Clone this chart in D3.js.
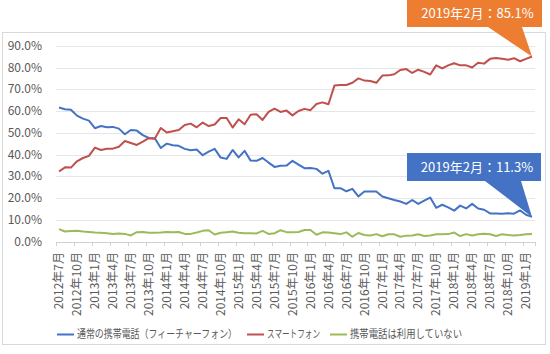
<!DOCTYPE html>
<html>
<head>
<meta charset="utf-8">
<script src="https://cdn.jsdelivr.net/npm/d3@7"></script>
<style>
  body { margin: 0; background: #fff; }
  svg { display: block; font-family: "Noto Sans CJK JP", "Noto Sans", sans-serif; }
</style>
</head>
<body>
<svg id="chart" width="550" height="354"></svg>
<script>
// months Jul 2012 .. Feb 2019 (80 points)
var startYear = 2012, startMonth = 7, nMonths = 80;
var months = d3.range(nMonths).map(function(i) {
  var m = startMonth - 1 + i;
  return (startYear + Math.floor(m / 12)) + "年" + (m % 12 + 1) + "月";
});

var seriesNames = ["通常の携帯電話（フィーチャーフォン）", "スマートフォン", "携帯電話は利用していない"];
var seriesColors = ["#4472C4", "#C0504D", "#9BBB59"];

var featurePhone = [
  61.6, 60.8, 60.6, 57.9, 56.5, 55.6, 52.1, 53.1, 52.5, 52.7, 51.9, 49.3, 51.3, 51.0, 48.9, 47.6, 47.5, 43.0, 45.0, 44.3,
  44.0, 42.6, 42.0, 42.3, 39.7, 41.3, 42.6, 38.6, 38.0, 42.1, 38.7, 41.7, 37.2, 37.1, 38.4, 36.3, 34.3, 34.8, 34.9, 37.1,
  35.4, 33.7, 33.8, 33.4, 31.2, 32.5, 24.5, 24.5, 23.1, 24.2, 20.7, 23.0, 23.0, 23.0, 20.7, 19.9, 19.1, 18.4, 17.3, 19.1,
  17.3, 18.8, 20.2, 15.5, 16.9, 15.7, 14.2, 16.5, 15.2, 17.3, 15.2, 14.6, 12.9, 12.9, 12.8, 13.0, 12.8, 14.3, 12.3, 11.3
];
var smartphone = [
  32.2, 34.1, 34.0, 36.9, 38.4, 39.4, 43.2, 42.1, 42.7, 42.7, 43.6, 46.2, 45.3, 44.4, 45.9, 47.5, 47.3, 52.2, 50.1, 50.7,
  51.3, 53.6, 54.2, 52.5, 54.7, 53.1, 53.8, 56.8, 56.8, 52.4, 56.2, 53.9, 58.3, 58.5, 55.9, 59.6, 61.1, 59.6, 60.2, 58.0,
  60.0, 61.0, 60.4, 63.2, 64.0, 63.1, 71.7, 72.0, 72.0, 73.0, 75.0, 74.0, 73.8, 73.0, 76.3, 76.4, 76.9, 78.9, 79.3, 77.5,
  79.0, 78.0, 76.8, 81.0, 79.6, 81.0, 82.0, 81.0, 81.0, 80.0, 82.2, 81.8, 84.0, 84.4, 84.0, 83.6, 84.3, 82.9, 84.0, 85.1
];
var noPhone = [
  5.7, 4.6, 4.8, 4.9, 4.6, 4.4, 4.1, 4.0, 3.8, 3.5, 3.7, 3.5, 2.8, 4.3, 4.4, 4.0, 4.0, 4.1, 4.4, 4.3,
  4.4, 3.5, 3.5, 4.1, 4.9, 5.2, 3.2, 4.0, 4.3, 4.6, 4.0, 3.8, 3.8, 3.7, 4.9, 3.5, 3.8, 5.2, 4.3, 4.3,
  4.4, 5.3, 5.3, 3.1, 4.2, 4.1, 3.8, 3.4, 4.2, 2.2, 3.9, 3.0, 2.8, 3.4, 2.4, 3.3, 3.3, 2.2, 2.7, 2.8,
  3.3, 2.5, 2.8, 3.3, 3.3, 3.4, 4.1, 2.5, 3.4, 2.8, 3.3, 3.6, 3.3, 2.5, 3.3, 3.0, 2.8, 3.0, 3.3, 3.4
];
var yTicks = [0, 10, 20, 30, 40, 50, 60, 70, 80, 90];
var tickEvery = 3;

var svg = d3.select("#chart");

// outer frame
svg.append("rect")
  .attr("x", 2.5).attr("y", 32.5)
  .attr("width", 543).attr("height", 312)
  .attr("fill", "none").attr("stroke", "#d9d9d9");

var xScale = d3.scalePoint().domain(months).range([56, 535]).padding(0.5);
var step = xScale.step();
var yScale = d3.scaleLinear().domain([0, 90]).range([241.5, 45.8]);

// gridlines + y labels
svg.selectAll("line.grid")
  .data(yTicks)
  .join("line")
    .attr("class", "grid")
    .attr("x1", 56).attr("x2", 535)
    .attr("y1", d => Math.round(yScale(d)) + 0.5)
    .attr("y2", d => Math.round(yScale(d)) + 0.5)
    .attr("stroke", d => d === 0 ? "#d0d0d0" : "#e6e6e6");

svg.selectAll("text.ylab")
  .data(yTicks)
  .join("text")
    .attr("class", "ylab")
    .attr("x", 42)
    .attr("y", d => yScale(d))
    .attr("dy", "0.35em")
    .attr("text-anchor", "end")
    .attr("fill", "#595959")
    .style("font-size", "12px")
    .text(d => d3.format(".1f")(d) + "%");

// x tick marks at category boundaries
var tickIdx = d3.range(0, nMonths + 1, tickEvery).concat([nMonths]);
svg.selectAll("line.xtick")
  .data(tickIdx)
  .join("line")
    .attr("class", "xtick")
    .attr("x1", d => Math.round(56 + d * step) + 0.5)
    .attr("x2", d => Math.round(56 + d * step) + 0.5)
    .attr("y1", 242).attr("y2", 246)
    .attr("stroke", "#d0d0d0");

// x labels (rotated)
var labelMonths = months.filter((m, i) => i % tickEvery === 0);
svg.selectAll("text.xlab")
  .data(labelMonths)
  .join("text")
    .attr("class", "xlab")
    .attr("transform", d => `translate(${xScale(d)},252) rotate(-90)`)
    .attr("dy", "0.35em")
    .attr("text-anchor", "end")
    .attr("fill", "#595959")
    .style("font-size", "12px")
    .text(d => d);

// lines
var seriesData = [featurePhone, smartphone, noPhone];
var line = d3.line()
  .x((d, i) => xScale(months[i]))
  .y(d => yScale(d));

svg.selectAll("path.series")
  .data(seriesData)
  .join("path")
    .attr("class", "series")
    .attr("d", d => line(d))
    .attr("fill", "none")
    .attr("stroke", (d, i) => seriesColors[i])
    .attr("stroke-width", 2)
    .attr("stroke-linejoin", "round");

// callouts
function callout(vals, color, box, tail) {
  var last = vals.length - 1;
  var tx = xScale(months[last]), ty = yScale(vals[last]);
  var p = d3.path();
  p.moveTo(box[0], box[1]);
  p.lineTo(box[2], box[1]);
  p.lineTo(box[2], box[3]);
  p.lineTo(tail[1], box[3]);
  p.lineTo(tx, ty);
  p.lineTo(tail[0], box[3]);
  p.lineTo(box[0], box[3]);
  p.closePath();
  svg.append("path").attr("d", p.toString()).attr("fill", color);
  svg.append("text")
    .attr("x", (box[0] + box[2]) / 2 + 3)
    .attr("y", (box[1] + box[3]) / 2)
    .attr("dy", "0.36em")
    .attr("text-anchor", "middle")
    .attr("fill", "#fff")
    .style("font-size", "13px")
    .text("2019年2月：" + d3.format(".1f")(vals[last]) + "%");
}
callout(smartphone, "#ED7D31", [407, -1, 542, 27], [488, 522]);
callout(featurePhone, "#4472C4", [407, 153, 541, 181], [485, 521]);

// legend
var legendW = [160, 53, 112];
var legendX = 57;
var legend = svg.append("g");
seriesNames.forEach(function(name, i) {
  legend.append("line")
    .attr("x1", legendX).attr("x2", legendX + 17)
    .attr("y1", 334.5).attr("y2", 334.5)
    .attr("stroke", seriesColors[i]).attr("stroke-width", 2);
  legend.append("text")
    .attr("x", legendX + 20)
    .attr("y", 334)
    .attr("dy", "0.36em")
    .attr("fill", "#595959")
    .attr("textLength", legendW[i])
    .attr("lengthAdjust", "spacingAndGlyphs")
    .style("font-size", "11px")
    .text(name);
  legendX += 17 + 3 + legendW[i] + 10;
});
</script>
</body>
</html>
